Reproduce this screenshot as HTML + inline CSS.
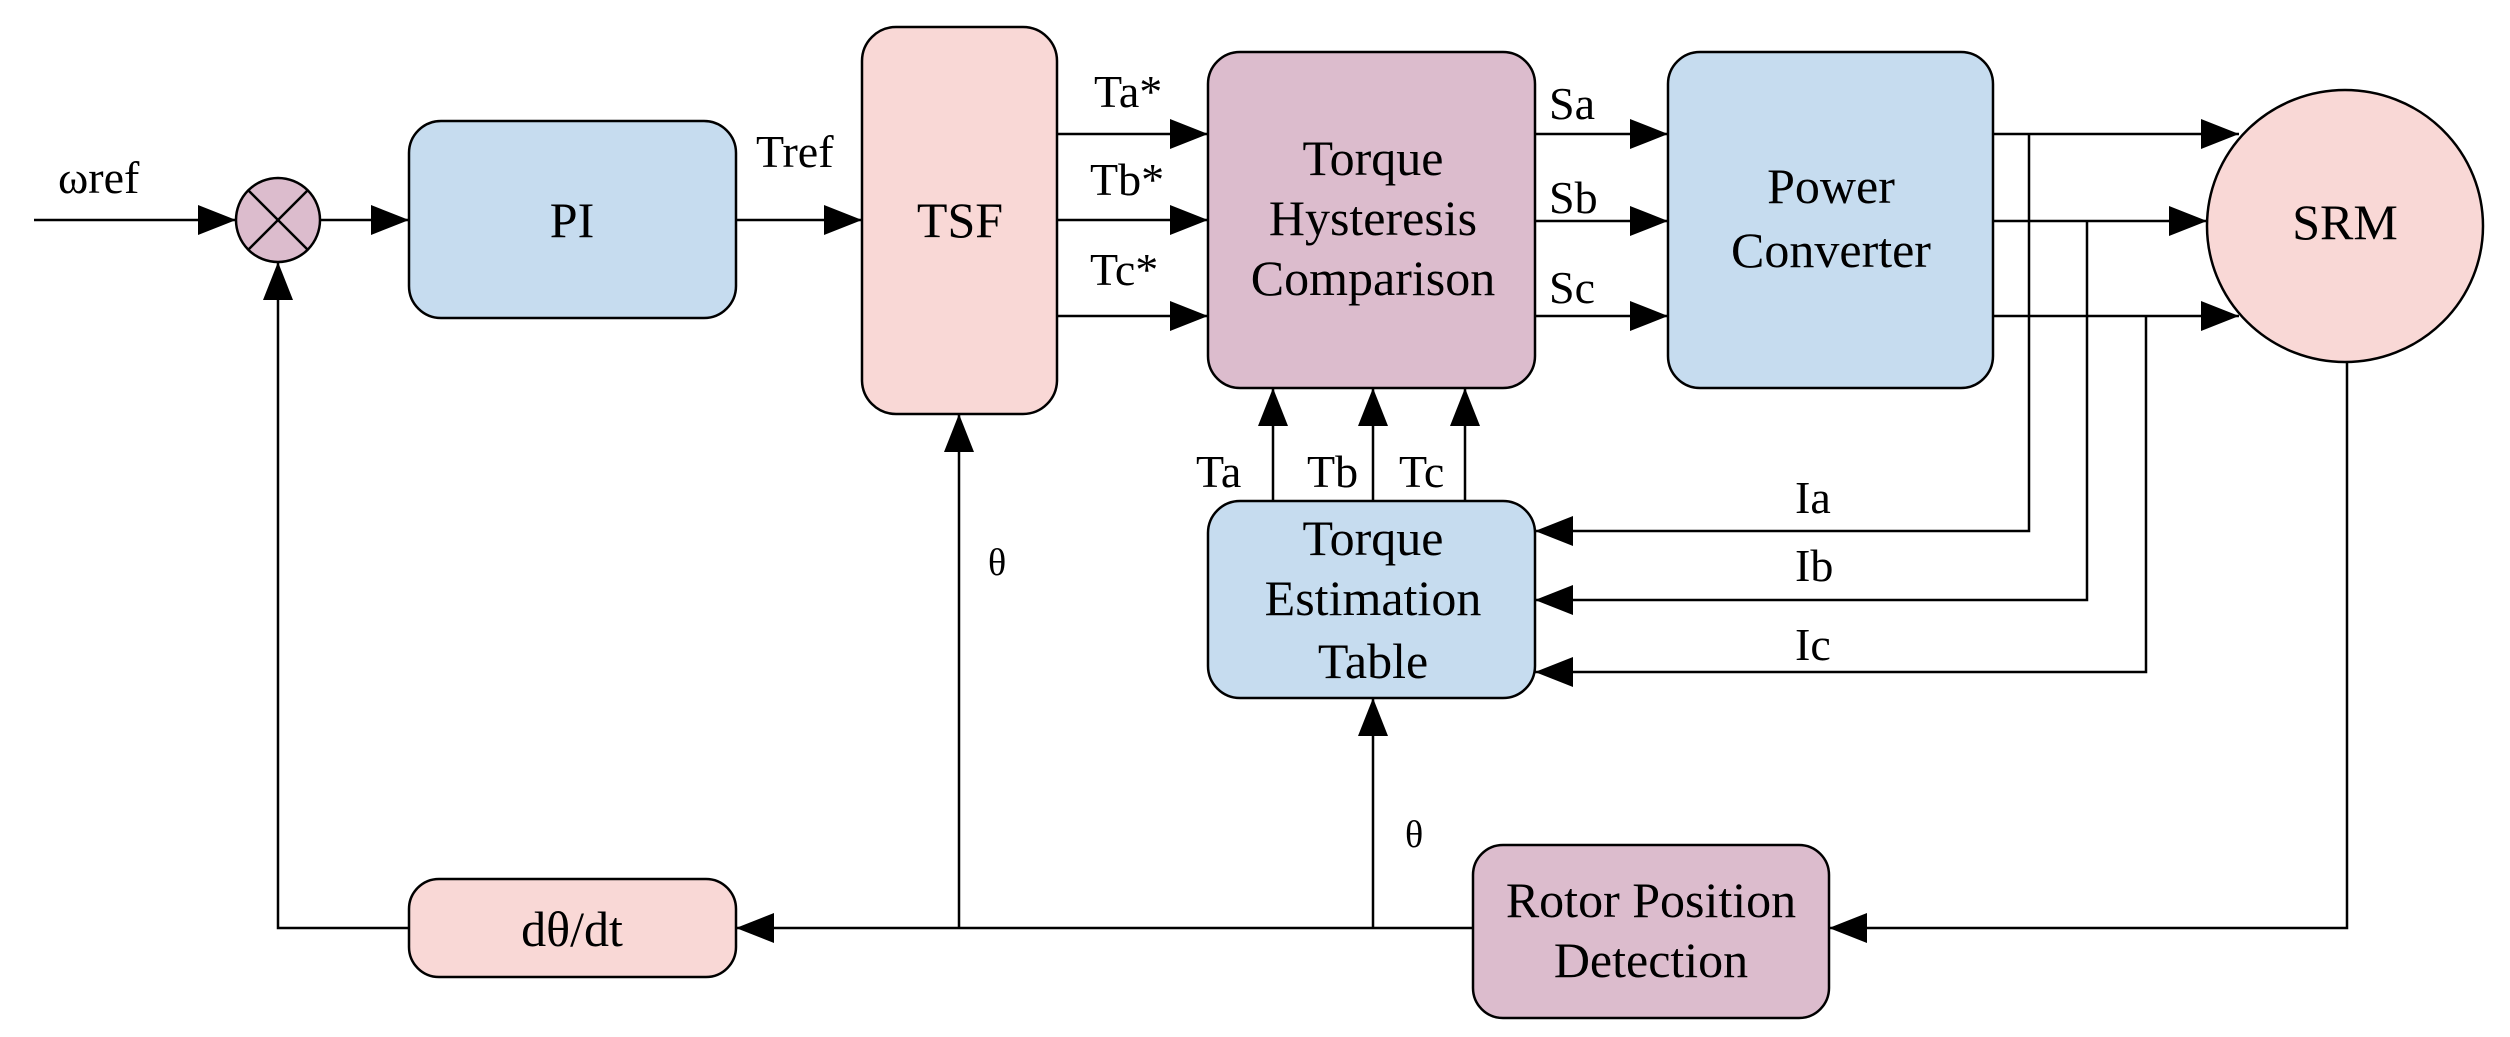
<!DOCTYPE html>
<html><head><meta charset="utf-8"><style>
html,body{margin:0;padding:0;background:#fff;}
svg{display:block;}
text{font-family:"Liberation Serif",serif;fill:#000;}
</style></head><body>
<svg width="2510" height="1037" viewBox="0 0 2510 1037" xmlns="http://www.w3.org/2000/svg">
<defs>
<marker id="a" markerUnits="userSpaceOnUse" markerWidth="40" markerHeight="32" refX="38" refY="15" orient="auto">
<path d="M0,0 L38,15 L0,30 Z" fill="#000"/>
</marker>
</defs>
<g stroke="#000" stroke-width="2.5" fill="none">
<!-- boxes -->
<rect x="409" y="121" width="327" height="197" rx="32" fill="#c6dcef"/>
<rect x="862" y="27" width="195" height="387" rx="34" fill="#f9d8d6"/>
<rect x="1208" y="52" width="327" height="336" rx="32" fill="#dcbccd"/>
<rect x="1668" y="52" width="325" height="336" rx="32" fill="#c6dcef"/>
<rect x="1208" y="501" width="327" height="197" rx="32" fill="#c6dcef"/>
<rect x="409" y="879" width="327" height="98" rx="30" fill="#f9d8d6"/>
<rect x="1473" y="845" width="356" height="173" rx="30" fill="#dcbccd"/>
<ellipse cx="2345" cy="226" rx="138" ry="136" fill="#f9d8d6"/>
<circle cx="278" cy="220" r="42" fill="#dcbccd"/>
<line x1="248" y1="190" x2="308" y2="250"/>
<line x1="308" y1="190" x2="248" y2="250"/>
<!-- connectors -->
<line x1="34" y1="220" x2="236" y2="220" marker-end="url(#a)"/>
<line x1="320" y1="220" x2="409" y2="220" marker-end="url(#a)"/>
<line x1="736" y1="220" x2="862" y2="220" marker-end="url(#a)"/>
<line x1="1057" y1="134" x2="1208" y2="134" marker-end="url(#a)"/>
<line x1="1057" y1="220" x2="1208" y2="220" marker-end="url(#a)"/>
<line x1="1057" y1="316" x2="1208" y2="316" marker-end="url(#a)"/>
<line x1="1535" y1="134" x2="1668" y2="134" marker-end="url(#a)"/>
<line x1="1535" y1="221" x2="1668" y2="221" marker-end="url(#a)"/>
<line x1="1535" y1="316" x2="1668" y2="316" marker-end="url(#a)"/>
<line x1="1993" y1="134" x2="2239" y2="134" marker-end="url(#a)"/>
<line x1="1993" y1="221" x2="2207" y2="221" marker-end="url(#a)"/>
<line x1="1993" y1="316" x2="2239" y2="316" marker-end="url(#a)"/>
<polyline points="2029,134 2029,531 1535,531" marker-end="url(#a)"/>
<polyline points="2087,221 2087,600 1535,600" marker-end="url(#a)"/>
<polyline points="2146,316 2146,672 1535,672" marker-end="url(#a)"/>
<line x1="1273" y1="501" x2="1273" y2="388" marker-end="url(#a)"/>
<line x1="1373" y1="501" x2="1373" y2="388" marker-end="url(#a)"/>
<line x1="1465" y1="501" x2="1465" y2="388" marker-end="url(#a)"/>
<polyline points="2347,362 2347,928 1829,928" marker-end="url(#a)"/>
<line x1="1473" y1="928" x2="736" y2="928" marker-end="url(#a)"/>
<line x1="1373" y1="928" x2="1373" y2="698" marker-end="url(#a)"/>
<line x1="959" y1="928" x2="959" y2="414" marker-end="url(#a)"/>
<polyline points="409,928 278,928 278,262" marker-end="url(#a)"/>
</g>
<g font-size="50" text-anchor="middle">
<text x="572" y="237">PI</text>
<text x="960" y="237">TSF</text>
<text x="1373" y="175">Torque</text>
<text x="1373" y="235">Hysteresis</text>
<text x="1373" y="295">Comparison</text>
<text x="1831" y="203">Power</text>
<text x="1831" y="267">Converter</text>
<text x="2345" y="239">SRM</text>
<text x="1373" y="555">Torque</text>
<text x="1373" y="615">Estimation</text>
<text x="1373" y="678">Table</text>
<text x="572" y="946">dθ/dt</text>
<text x="1651" y="917">Rotor Position</text>
<text x="1651" y="977">Detection</text>
</g>
<g font-size="46">
<text x="58" y="193">ωref</text>
<text x="756" y="167">Tref</text>
<text x="1094" y="107">Ta*</text>
<text x="1090" y="195">Tb*</text>
<text x="1090" y="285">Tc*</text>
<text x="1549" y="119">Sa</text>
<text x="1549" y="213">Sb</text>
<text x="1549" y="303">Sc</text>
<text x="1196" y="487">Ta</text>
<text x="1307" y="487">Tb</text>
<text x="1399" y="487">Tc</text>
<text x="1795" y="513">Ia</text>
<text x="1795" y="581">Ib</text>
<text x="1795" y="660">Ic</text>
</g>
<g font-size="38">
<text x="988" y="575">θ</text>
<text x="1405" y="847">θ</text>
</g>
</svg>
</body></html>
